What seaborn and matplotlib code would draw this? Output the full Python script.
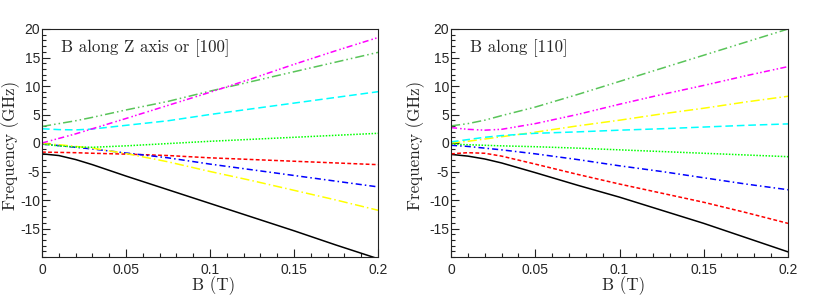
import matplotlib
matplotlib.use('Agg')
import matplotlib.pyplot as plt
from matplotlib.ticker import MultipleLocator
import numpy as np
import pandas as pd
import seaborn as sns

b_field = [0, 0.01, 0.02, 0.03, 0.05, 0.075, 0.1, 0.125, 0.15, 0.175, 0.2]

# --- B along Z axis or [100] ---
black_z = [-1.9, -2.2, -2.9, -3.8, -5.8, -8.2, -10.6, -13.0, -15.4, -17.9, -20.3]
red_z = [-1.6, -1.65, -1.7, -1.8, -1.95, -2.2, -2.6, -2.9, -3.2, -3.5, -3.8]
blue_z = [-0.2, -0.45, -0.75, -1.05, -1.75, -2.6, -3.7, -4.7, -5.7, -6.7, -7.7]
yellow_z = [-0.1, -0.3, -0.6, -0.9, -1.85, -3.3, -5.0, -6.6, -8.3, -10.0, -11.8]
lime_z = [-0.2, -0.5, -0.7, -0.75, -0.5, -0.1, 0.3, 0.65, 1.0, 1.35, 1.7]
cyan_z = [2.5, 2.35, 2.3, 2.45, 3.1, 3.9, 5.0, 6.0, 7.0, 8.0, 9.0]
green_z = [2.9, 3.4, 3.9, 4.5, 5.8, 7.3, 9.1, 10.8, 12.5, 14.2, 15.9]
magenta_z = [0.0, 0.8, 1.6, 2.5, 4.3, 6.6, 8.9, 11.3, 13.8, 16.2, 18.5]

# --- B along [110] ---
black_x = [-2.0, -2.3, -2.8, -3.5, -5.2, -7.4, -9.5, -11.8, -14.1, -16.6, -19.1]
red_x = [-1.9, -1.7, -1.8, -2.3, -3.7, -5.5, -7.2, -8.8, -10.4, -12.2, -14.1]
blue_x = [-0.4, -0.6, -0.9, -1.2, -1.9, -2.9, -4.0, -5.0, -6.1, -7.2, -8.2]
yellow_x = [0.0, 0.3, 0.7, 1.1, 1.9, 3.0, 4.0, 5.1, 6.1, 7.2, 8.2]
lime_x = [-0.2, -0.3, -0.4, -0.5, -0.65, -0.9, -1.2, -1.5, -1.8, -2.1, -2.4]
cyan_x = [0.2, 0.6, 1.0, 1.3, 1.7, 1.95, 2.25, 2.5, 2.8, 3.1, 3.35]
green_x = [3.0, 3.4, 4.0, 4.8, 6.3, 8.5, 10.8, 13.1, 15.4, 17.7, 20.0]
magenta_x = [2.7, 2.4, 2.25, 2.4, 3.4, 5.0, 6.8, 8.5, 10.1, 11.8, 13.4]

levels = ['black', 'red', 'blue', 'yellow', 'lime', 'cyan', 'green', 'magenta']
panel_z = [black_z, red_z, blue_z, yellow_z, lime_z, cyan_z, green_z, magenta_z]
panel_x = [black_x, red_x, blue_x, yellow_x, lime_x, cyan_x, green_x, magenta_x]

x_ticks = [0, 0.05, 0.1, 0.15, 0.2]
x_ticklabels = ['0', '0.05', '0.1', '0.15', '0.2']
y_ticks = [-15, -10, -5, 0, 5, 10, 15, 20]
y_ticklabels = ['-15', '-10', '-5', '0', '5', '10', '15', '20']

palette = {'black': '#000000', 'red': '#ff0000', 'blue': '#0000ff',
           'yellow': '#ffff00', 'lime': '#00ff00', 'cyan': '#00ffff',
           'green': '#59c459', 'magenta': '#ff00ff'}
dashes = {'black': '', 'red': (2.5, 1.5), 'blue': (4, 2, 1, 2),
          'yellow': (6, 2, 1, 2), 'lime': (1, 1), 'cyan': (5, 2.5),
          'green': (6, 2, 1, 2, 1, 2), 'magenta': (4, 2, 1, 1.5, 1, 1.5)}


def long_df(series):
    rows = []
    for name, vals in zip(levels, series):
        for b, f in zip(b_field, vals):
            rows.append({'B': b, 'f': f, 'level': name})
    return pd.DataFrame(rows)


sns.set_style('ticks')
fig = plt.figure(figsize=(8.31, 2.97), dpi=100)
ax1 = fig.add_axes([42/831, 1 - 257/297, 336/831, 228/297])
ax2 = fig.add_axes([451/831, 1 - 257/297, 337/831, 228/297])

tick_font = 'Liberation Sans'
label_font = 'cmr10'

for ax, series, title, ylab_x in [(ax1, panel_z, 'B along Z axis or [100]', -0.065),
                                   (ax2, panel_x, 'B along [110]', -0.077)]:
    sns.lineplot(data=long_df(series), x='B', y='f', hue='level', style='level',
                 palette=palette, dashes=dashes, estimator=None, sort=False,
                 linewidth=1.1, legend=False, ax=ax)
    ax.set_xlim(0, 0.2)
    ax.set_ylim(-20, 20)
    ax.set_xticks(x_ticks)
    ax.set_xticklabels(x_ticklabels, fontfamily=tick_font, fontsize=10)
    ax.set_yticks(y_ticks)
    ax.set_yticklabels(y_ticklabels, fontfamily=tick_font, fontsize=10)
    ax.xaxis.set_minor_locator(MultipleLocator(0.01))
    ax.yaxis.set_minor_locator(MultipleLocator(1))
    ax.tick_params(which='both', direction='in', top=False, right=False,
                   width=0.8, color='#222222')
    ax.tick_params(which='major', length=5.5)
    ax.tick_params(which='minor', length=3)
    ax.tick_params(axis='y', pad=1.5)
    ax.tick_params(axis='x', pad=4)
    for sp in ax.spines.values():
        sp.set_visible(True)
        sp.set_linewidth(0.8)
        sp.set_color('#222222')
    ax.set_xlabel('B (T)', fontfamily=label_font, fontsize=12.2)
    ax.set_ylabel('Frequency (GHz)', fontfamily=label_font, fontsize=12.2)
    ax.xaxis.set_label_coords(0.512, -0.085)
    ax.yaxis.set_label_coords(ylab_x, 0.49)
    ax.text(0.057, 0.9, title, transform=ax.transAxes, fontfamily=label_font,
            fontsize=12.2, va='baseline', ha='left')

fig.savefig('out.png', dpi=100)
